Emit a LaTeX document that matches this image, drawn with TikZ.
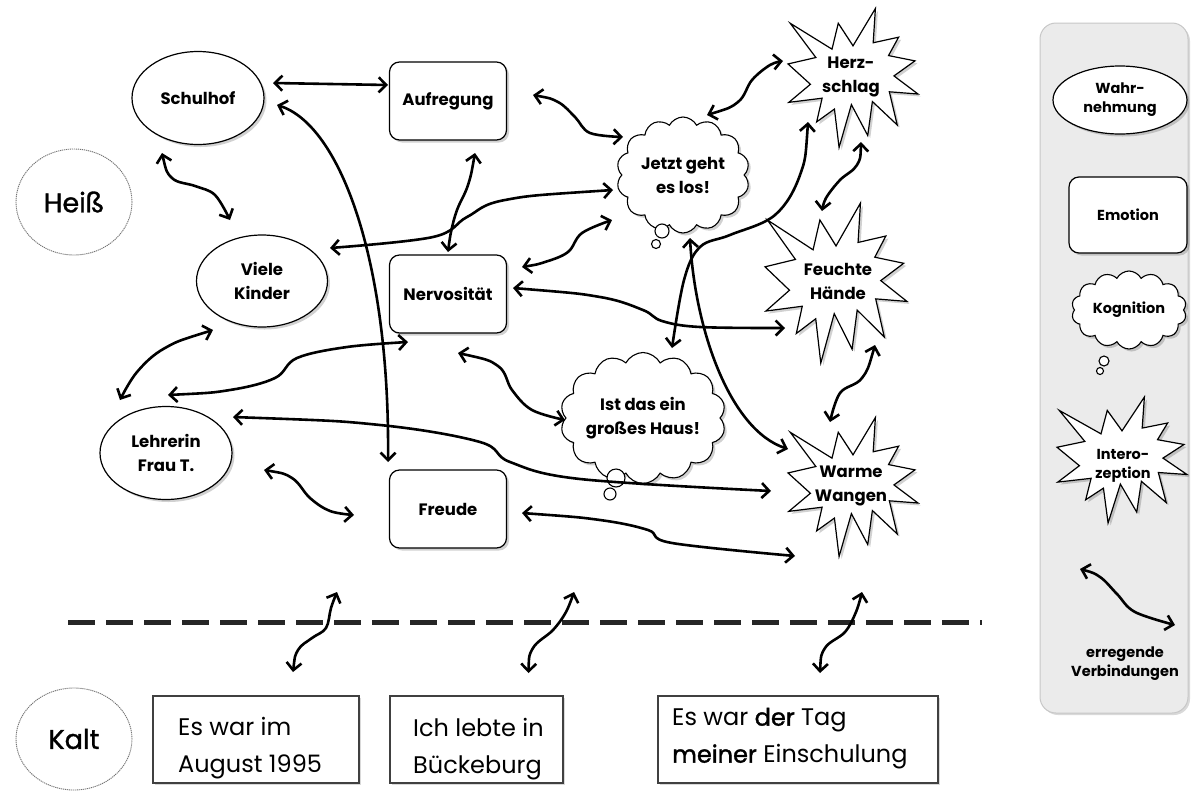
\documentclass[tikz,border=0pt]{standalone}
\usepackage{fontspec}
\setmainfont{Poppins}
\newfontfamily\semib{Poppins}[FakeBold=1.5]
\newfontfamily\zonefont{Poppins}[FakeBold=1.2]
\usetikzlibrary{arrows.meta,shapes.geometric,shapes.symbols,shadows,calc}
\newcommand\ep[4]{\coordinate (#1) at ([shift={(#3,#4)}]#2.center);}
\newcommand\explo[4]{%
  \begin{scope}[shift={({#1-#3/2},{#2-#4/2})},xscale=#3/216,yscale=#4/216]
  \filldraw[starline] (108,58)--(145.22,0)--(141.55,53.25)--(183.8,44.57)--(167.02,73.15)--(210.97,81.37)--(176.07,104.75)--(216,132.9)--(168.37,129.42)--(181.45,180.95)--(140.2,144.57)--(132.47,197.37)--(105.32,149.35)--(84.85,216)--(77.15,156.27)--(47.62,176.17)--(56.67,139.37)--(1.35,145.87)--(37.22,117.75)--(0,86.15)--(46.27,76.17)--(3.7,22.95)--(73.12,63.2)--(83.52,22.95)--cycle;
  \end{scope}}
\begin{document}
\begin{tikzpicture}[x=1pt,y=-1pt,
  shade/.style={drop shadow={opacity=0.18,shadow xshift=2.5pt,shadow yshift=-2.5pt,fill=black}},
  nodefont/.style={font=\fontsize{16.5}{24}\selectfont\bfseries,align=center},
  legfont/.style={font=\fontsize{14.5}{19}\selectfont\bfseries,align=center},
  perc/.style={ellipse,draw,line width=1.2pt,fill=white,inner sep=0pt,outer sep=0pt,nodefont,shade},
  emo/.style={rectangle,rounded corners=10pt,draw,line width=1.2pt,fill=white,inner sep=0pt,outer sep=0pt,nodefont,shade},
  cog/.style={cloud,cloud puffs=14,cloud puff arc=125,cloud ignores aspect,draw,line width=1.1pt,fill=white,inner sep=0pt,outer sep=0pt,nodefont,shade},
  tailc/.style={draw,line width=1.1pt,fill=white},
  starline/.style={draw,line width=1.2pt,fill=white,line join=miter,drop shadow={opacity=0.18,shadow xshift=2.5pt,shadow yshift=-2.5pt,fill=black}},
  intero/.style={nodefont,inner sep=0pt},
  zone/.style={ellipse,draw=black!55,dash pattern=on 1.2pt off 0.8pt,line width=0.9pt,inner sep=0pt,font=\fontsize{27}{30}\selectfont\zonefont},
  fact/.style={rectangle,draw=black!75,line width=2pt,minimum height=87pt,inner sep=0pt,drop shadow={opacity=0.15,shadow xshift=2pt,shadow yshift=-2pt,fill=black},fill=white},
  facttext/.style={anchor=west,inner sep=0pt,font=\fontsize{24}{37}\selectfont,align=left},
  conn/.style={line width=2.6pt,line cap=round,line join=round,{Straight Barb[length=7.5pt,width=15pt]}-{Straight Barb[length=7.5pt,width=15pt]}},
  panel/.style={rectangle,rounded corners=16pt,fill=black!8,draw=black!22,line width=1pt,minimum width=148pt,minimum height=690pt,drop shadow={opacity=0.15,shadow xshift=2pt,shadow yshift=-2pt,fill=black}}
]
\useasboundingbox (0,0) rectangle (1199,793);
\fill[white] (0,0) rectangle (1199,793);

% ---------- zones ----------
\node[zone,minimum width=116pt,minimum height=106pt] (heiss) at (74,202) {Heiß};
\node[zone,minimum width=116pt,minimum height=102pt] (kalt) at (74,739) {Kalt};

% ---------- perceptions ----------
\node[perc,minimum width=132pt,minimum height=93pt] (schulhof) at (198,98) {Schulhof};
\node[perc,minimum width=131pt,minimum height=92pt] (viele) at (262,281) {Viele\\Kinder};
\node[perc,minimum width=132pt,minimum height=93pt] (lehrerin) at (166,453) {Lehrerin\\Frau T.};

% ---------- emotions ----------
\node[emo,minimum width=117pt,minimum height=78pt] (aufregung) at (448,101) {Aufregung};
\node[emo,minimum width=117pt,minimum height=78pt] (nerv) at (448,294) {Nervosität};
\node[emo,minimum width=117pt,minimum height=78pt] (freude) at (448,509) {Freude};

% ---------- cognitions ----------
\node[cog,minimum width=133pt,minimum height=116pt] (jetzt) at (683,175) {Jetzt geht\\es los!};
\draw[tailc] (662,231) circle[radius=7pt];
\draw[tailc] (656,244) circle[radius=4.5pt];
\node[cog,minimum width=159pt,minimum height=131pt] (istdas) at (643,418) {Ist das ein\\großes Haus!};
\draw[tailc] (616,478) circle[radius=9pt];
\draw[tailc] (610,494) circle[radius=6pt];

% ---------- interoception ----------
\explo{853}{78}{130}{139}
\node[intero] (herz) at (851,77) {Herz-\\schlag};
\explo{836}{283}{142}{160}
\node[intero] (feuchte) at (838,281) {Feuchte\\Hände};
\explo{853}{487}{130}{139}
\node[intero] (warme) at (851,486) {Warme\\Wangen};

% ---------- dashed border ----------
\coordinate (dl) at (68,622);
\coordinate (dr) at (982,622);
\draw[line width=5pt,dash pattern=on 27pt off 11pt,black!85] (dl) -- (dr);

% ---------- cold facts ----------
\node[fact,minimum width=206pt] (box1) at (256,739) {};
\node[facttext] (t1) at ([shift={(-78,9.5)}]box1.center) {Es war im\\August 1995};
\node[fact,minimum width=173pt] (box2) at (476.5,739) {};
\node[facttext] (t2) at ([shift={(-63.5,10)}]box2.center) {Ich lebte in\\Bückeburg};
\node[fact,minimum width=280pt] (box3) at (798,739) {};
\node[facttext] (t3) at ([shift={(-126,-0.5)}]box3.center) {Es war {\semib der} Tag\\{\semib meiner} Einschulung};

% ---------- legend ----------
\node[panel] (legend) at (1114,368) {};
\node[perc,legfont,minimum width=134pt,minimum height=68pt] (lperc) at (1120,100) {Wahr-\\nehmung};
\node[emo,legfont,minimum width=118pt,minimum height=76pt] (lemo) at (1128,215) {Emotion};
\node[cog,legfont,minimum width=115pt,minimum height=78pt] (lcog) at (1129,310) {Kognition};
\draw[tailc] (1104,361) circle[radius=5pt];
\draw[tailc] (1100,371) circle[radius=3.5pt];
\explo{1122}{460}{130}{126}
\node[intero,legfont] (lint) at (1123,466) {Intero-\\zeption};
\coordinate (la) at (1080,569);
\coordinate (lb) at (1175,625);
\draw[conn] plot[smooth,tension=0.6] coordinates {(la) (1100,577) (1117,594) (1135,612) (lb)};
\node[legfont] (ltext) at (1125,664) {erregende\\Verbindungen};

% ---------- connector end points ----------
\ep{a1s}{schulhof}{75}{-15}   \ep{a1e}{aufregung}{-60}{-16}
\ep{a2s}{schulhof}{79}{7}     \ep{a2e}{freude}{-60}{-47}
\ep{a3s}{schulhof}{-36}{55}   \ep{a3e}{viele}{-32}{-61}
\ep{a4s}{aufregung}{27}{52}   \ep{a4e}{nerv}{0}{-42}
\ep{a5s}{viele}{68}{-33}      \ep{a5e}{jetzt}{-70}{15}
\ep{a6s}{nerv}{74}{-27}       \ep{a6e}{jetzt}{-71}{45}
\ep{a7s}{aufregung}{85}{-6}   \ep{a7e}{jetzt}{-60}{-38}
\ep{a8s}{jetzt}{24}{-60}      \ep{a8e}{herz}{-68}{-16}
\ep{a9s}{herz}{-43}{45}       \ep{a9e}{istdas}{29}{-70}
\ep{a10s}{jetzt}{7}{63}       \ep{a10e}{warme}{-63}{-37}
\ep{a11s}{nerv}{65}{-6}       \ep{a11e}{feuchte}{-53}{47}
\ep{a12s}{herz}{10}{65}       \ep{a12e}{feuchte}{-16}{-70}
\ep{a13s}{feuchte}{37}{64}    \ep{a13e}{warme}{-21}{-64}
\ep{a14s}{viele}{-49}{49}     \ep{a14e}{lehrerin}{-46}{-53}
\ep{a15s}{lehrerin}{2}{-58}   \ep{a15e}{nerv}{-40}{48}
\ep{a16s}{nerv}{10}{59}       \ep{a16e}{istdas}{-78}{2}
\ep{a17s}{lehrerin}{67}{-36}  \ep{a17e}{warme}{-80}{5}
\ep{a18s}{lehrerin}{98}{17}   \ep{a18e}{freude}{-94}{6}
\ep{a19s}{freude}{74}{4}      \ep{a19e}{warme}{-56}{70}
\ep{b1s}{box1}{37}{-67}       \coordinate (b1e) at (337,592);
\ep{b2s}{box2}{52}{-66}       \coordinate (b2e) at (574,592);
\ep{b3s}{box3}{22}{-66}       \coordinate (b3e) at (862,592);

% ---------- connectors ----------
\draw[conn] (a1s) -- (a1e);
\draw[conn] (a2s) .. controls (340,125) and (390,260) .. (a2e);
\draw[conn] plot[smooth,tension=0.6] coordinates {(a3s) (172,178) (195,186) (215,195) (a3e)};
\draw[conn] plot[smooth,tension=0.6] coordinates {(a4s) (468,185) (457,210) (451,232) (a4e)};
\draw[conn] plot[smooth,tension=0.6] coordinates {(a5e) (505,200) (467,217) (433,237) (a5s)};
\draw[conn] plot[smooth,tension=0.6] coordinates {(a6s) (545,262) (568,252) (582,233) (a6e)};
\draw[conn] plot[smooth,tension=0.6] coordinates {(a7s) (558,102) (575,117) (590,133) (a7e)};
\draw[conn] plot[smooth,tension=0.6] coordinates {(a8s) (738,102) (752,80) (770,65) (a8e)};
\draw[conn] plot[smooth,tension=0.6] coordinates {(a9s) (800,175) (775,215) (730,235) (700,247) (684,280) (a9e)};
\draw[conn] (a10s) .. controls (695,330) and (730,430) .. (a10e);
\draw[conn] plot[smooth,tension=0.6] coordinates {(a11s) (600,297) (643,310) (662,321) (700,327) (a11e)};
\draw[conn] plot[smooth,tension=0.6] coordinates {(a12s) (857,165) (840,180) (826,198) (a12e)};
\draw[conn] plot[smooth,tension=0.6] coordinates {(a13s) (862,378) (840,393) (a13e)};
\draw[conn] plot[smooth,tension=0.6] coordinates {(a14s) (165,348) (137,372) (a14e)};
\draw[conn] plot[smooth,tension=0.6] coordinates {(a15s) (230,390) (275,378) (297,358) (347,347) (a15e)};
\draw[conn] plot[smooth,tension=0.6] coordinates {(a16s) (498,366) (512,390) (532,410) (a16e)};
\draw[conn] plot[smooth,tension=0.6] coordinates {(a17s) (380,425) (480,442) (510,462) (580,479) (a17e)};
\draw[conn] plot[smooth,tension=0.6] coordinates {(a18s) (292,478) (310,498) (330,511) (a18e)};
\draw[conn] plot[smooth,tension=0.6] coordinates {(a19s) (600,520) (648,530) (672,543) (a19e)};
\draw[conn] plot[smooth,tension=0.6] coordinates {(b1s) (298,650) (312,638) (326,628) (331,608) (b1e)};
\draw[conn] plot[smooth,tension=0.6] coordinates {(b2s) (533,648) (553,630) (566,612) (b2e)};
\draw[conn] plot[smooth,tension=0.6] coordinates {(b3s) (825,648) (845,632) (856,612) (b3e)};
\end{tikzpicture}
\end{document}
